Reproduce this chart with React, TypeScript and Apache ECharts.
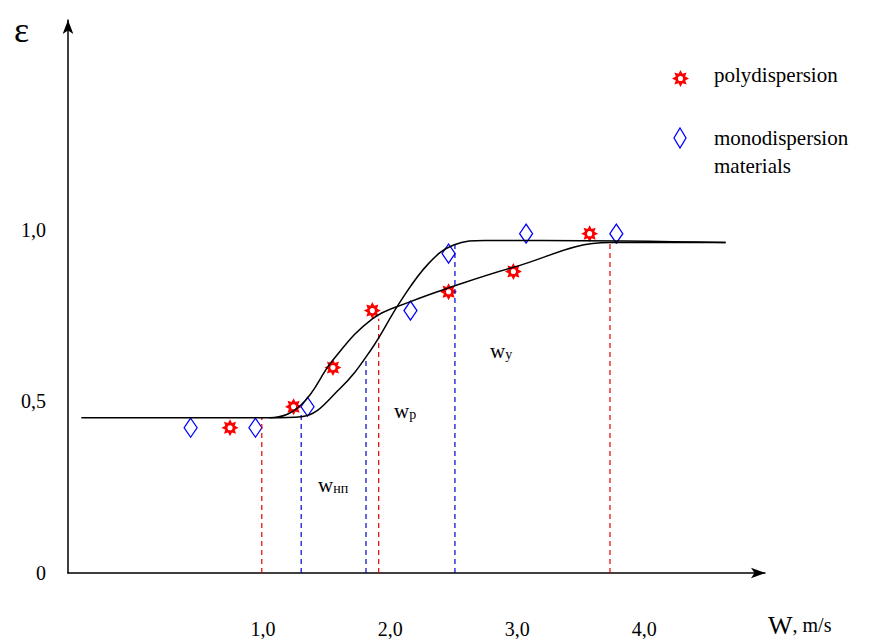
import { useEffect, useRef } from "react";
import * as echarts from "echarts";

const xTicks = [1, 2, 3, 4];
const yTicks = [0, 0.5, 1];
const polyPoints = [[0.74, 0.423], [1.24, 0.484], [1.55, 0.598], [1.86, 0.764], [2.46, 0.819], [2.97, 0.878], [3.57, 0.988]];
const monoPoints = [[0.43, 0.423], [0.94, 0.423], [1.35, 0.484], [2.16, 0.764], [2.46, 0.93], [3.07, 0.988], [3.78, 0.988]];
const polyCurve = [[-0.43, 0.452], [1.05, 0.452], [1.3, 0.49], [1.55, 0.62], [1.86, 0.74], [2.16, 0.79], [2.46, 0.83], [2.97, 0.89], [3.73, 0.962], [4.64, 0.962]];
const monoCurve = [[1.05, 0.452], [1.3, 0.455], [1.6, 0.535], [1.85, 0.65], [2.08, 0.79], [2.3, 0.9], [2.5, 0.955], [2.75, 0.968], [3.2, 0.968], [4.64, 0.962]];
const redDashes = [[0.99, 0.452], [1.91, 0.74], [3.73, 0.962]];
const blueDashes = [[1.3, 0.47], [1.81, 0.62], [2.51, 0.955]];

function starD() {
  const pts: string[] = [];
  for (let i = 0; i < 16; i++) {
    const a = (Math.PI * i) / 8;
    const r = i % 2 === 0 ? 10 : 6;
    pts.push(`${(10 + r * Math.sin(a)).toFixed(2)} ${(10 - r * Math.cos(a)).toFixed(2)}`);
  }
  return "M" + pts.join(" L") + " Z M13 10 A3 3 0 1 0 7 10 A3 3 0 1 0 13 10 Z";
}
const STAR_D = starD();
const fmt = (v: number) => v.toFixed(1).replace(".", ",");

export default function App() {
  const ref = useRef<HTMLDivElement>(null);
  useEffect(() => {
    document.body.style.margin = "0";
    const chart = echarts.init(ref.current!, null, { renderer: "svg" });
    const font = "Liberation Serif";
    const dash = (pts: number[][], color: string) =>
      pts.map((p) => ({
        type: "line", data: [[p[0], 0], p], symbol: "none", silent: true,
        lineStyle: { color, width: 1.2, type: [5, 4] },
      }));
    const sub = { s: { fontSize: 14, fontFamily: font, padding: [8, 0, 0, 0] } };
    chart.setOption({
      animation: false,
      textStyle: { fontFamily: font },
      grid: { left: 68, right: 118, top: 20, bottom: 66 },
      xAxis: {
        type: "value", min: -0.535, max: 4.95,
        splitLine: { show: false }, axisTick: { show: false },
        axisLine: { onZero: false, symbol: ["none", "arrow"], symbolSize: [8, 14], lineStyle: { color: "#000", width: 1.5 } },
        axisLabel: { customValues: xTicks, formatter: fmt, margin: 46, fontSize: 20, color: "#000", fontFamily: font },
      },
      yAxis: {
        type: "value", min: 0, max: 1.61,
        splitLine: { show: false }, axisTick: { show: false },
        axisLine: { onZero: false, symbol: ["none", "arrow"], symbolSize: [8, 14], lineStyle: { color: "#000", width: 1.5 } },
        axisLabel: { customValues: yTicks, formatter: (v: number) => (v === 0 ? "0" : fmt(v)), margin: 22, fontSize: 20, color: "#000", fontFamily: font },
      },
      series: [
        ...dash(redDashes, "#e00000"),
        ...dash(blueDashes, "#0000cc"),
        { type: "line", data: polyCurve, smooth: 0.4, symbol: "none", lineStyle: { color: "#000", width: 1.5 } },
        { type: "line", data: monoCurve, smooth: 0.4, symbol: "none", lineStyle: { color: "#000", width: 1.5 } },
        { type: "scatter", data: polyPoints, symbol: "path://" + STAR_D, symbolSize: 17, itemStyle: { color: "#ff0000", opacity: 1 } },
        { type: "scatter", data: monoPoints, symbol: "diamond", symbolSize: [13, 19], itemStyle: { color: "#fff", borderColor: "#0000ff", borderWidth: 1.3, opacity: 1 } },
      ],
      graphic: [
        { type: "text", left: 14, top: 12, style: { text: "ε", fontSize: 36, fontFamily: font, fill: "#000" } },
        { type: "text", left: 768, top: 612, style: { text: "{b|W}, m/s", fontSize: 20, fontFamily: font, fill: "#000", rich: { b: { fontSize: 26, fontFamily: font } } } },
        { type: "text", left: 318, top: 474, style: { text: "w{s|нп}", fontSize: 21, fontFamily: font, fill: "#000", rich: sub } },
        { type: "text", left: 394, top: 400, style: { text: "w{s|p}", fontSize: 21, fontFamily: font, fill: "#000", rich: sub } },
        { type: "text", left: 490, top: 340, style: { text: "w{s|y}", fontSize: 21, fontFamily: font, fill: "#000", rich: sub } },
        { type: "text", left: 714, top: 64, style: { text: "polydispersion", fontSize: 21, fontFamily: font, fill: "#000" } },
        { type: "text", left: 714, top: 124, style: { text: "monodispersion\nmaterials", fontSize: 21, lineHeight: 28, fontFamily: font, fill: "#000" } },
      ],
    });
    return () => chart.dispose();
  }, []);
  return (
    <div style={{ position: "relative", width: 883, height: 639 }}>
      <div ref={ref} style={{ width: 883, height: 639 }} />
      <svg style={{ position: "absolute", left: 672, top: 70, pointerEvents: "none" }} width="30" height="90">
        <path d={STAR_D} transform="scale(0.85)" fill="#ff0000" fillRule="evenodd" />
        <polygon points="8,58 14,68 8,78 2,68" fill="#fff" stroke="#0000ff" strokeWidth="1.3" />
      </svg>
    </div>
  );
}
